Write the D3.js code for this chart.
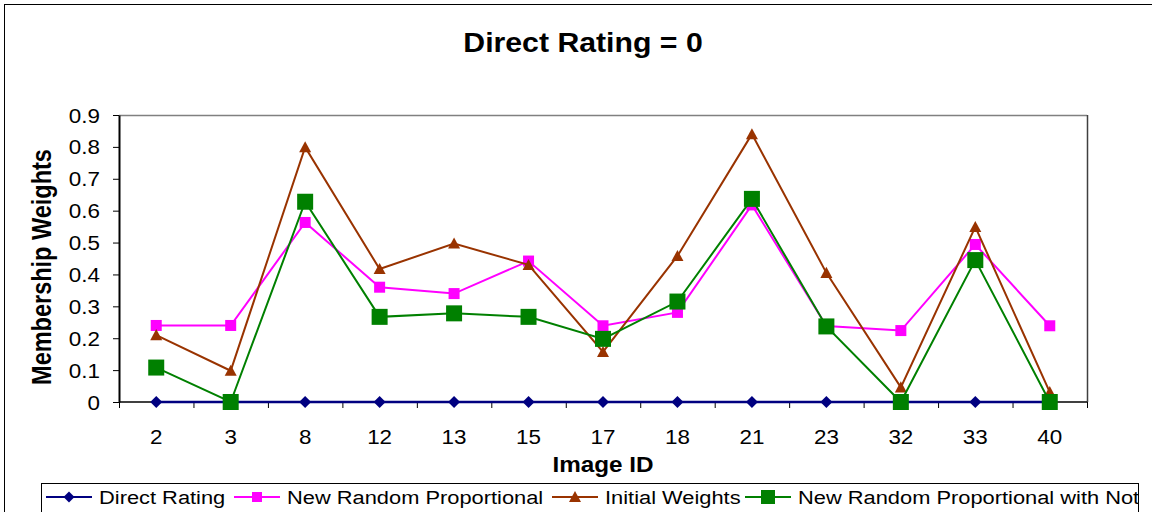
<!DOCTYPE html>
<html lang="en">
<head>
    <meta charset="UTF-8">
    <title>Direct Rating = 0</title>
    <script src="https://d3js.org/d3.v7.min.js"></script>
    <style>
        body { margin: 0; background: #fff; }
        text { font-family: "Liberation Sans", Arial, sans-serif; fill: #000; }
    </style>
</head>
<body>
    <div id="chart"></div>
    <script>
        // Data
        const imageIds = ["2", "3", "8", "12", "13", "15", "17", "18", "21", "23", "32", "33", "40"];
        const directRating = [0, 0, 0, 0, 0, 0, 0, 0, 0, 0, 0, 0, 0];
        const newRandomProportional = [0.24, 0.24, 0.563, 0.36, 0.34, 0.442, 0.239, 0.281, 0.618, 0.238, 0.224, 0.494, 0.239];
        const initialWeights = [0.21, 0.098, 0.799, 0.417, 0.497, 0.43, 0.157, 0.458, 0.84, 0.405, 0.046, 0.549, 0.031];
        const newRandomProportionalWithNot = [0.108, 0, 0.628, 0.267, 0.278, 0.267, 0.198, 0.315, 0.637, 0.237, 0, 0.445, 0];
        const yTicks = [0, 0.1, 0.2, 0.3, 0.4, 0.5, 0.6, 0.7, 0.8, 0.9];

        const series = [
            { name: "Direct Rating", values: directRating, color: "#000080", marker: "diamond", size: 12, width: 2.5 },
            { name: "New Random Proportional", values: newRandomProportional, color: "#FF00FF", marker: "square", size: 11, width: 2 },
            { name: "Initial Weights", values: initialWeights, color: "#993300", marker: "triangle", size: 12, width: 2 },
            { name: "New Random Proportional with Not", values: newRandomProportionalWithNot, color: "#008000", marker: "bigsquare", size: 16, width: 2 }
        ];

        const width = 1152, height = 512;
        const plot = { left: 119, right: 1087, top: 115, bottom: 402 };
        const sx = 1.15; // the reference text is stretched horizontally

        const svg = d3.select("#chart").append("svg")
            .attr("width", width)
            .attr("height", height);

        // Outer chart border
        svg.append("rect")
            .attr("x", 4.5).attr("y", 4.5)
            .attr("width", 1160).attr("height", 520)
            .attr("fill", "none").attr("stroke", "#000");

        const x = d3.scaleBand().domain(imageIds).range([plot.left, plot.right]);
        const y = d3.scaleLinear().domain([0, 0.9]).range([plot.bottom, plot.top]);
        const cx = d => x(d) + x.bandwidth() / 2;

        // place text with a horizontal stretch
        function stretched(g, tx, ty, str, opts) {
            return g.append("text")
                .attr("transform", `translate(${tx},${ty}) scale(${opts.sx || sx},1)`)
                .attr("text-anchor", opts.anchor || "middle")
                .attr("font-size", opts.size)
                .attr("font-weight", opts.bold ? "bold" : "normal")
                .text(str);
        }

        // Title
        stretched(svg, 583, 52, "Direct Rating = 0", { size: 27, bold: true, sx: 1.12 });

        // Plot frame: top and right
        svg.append("line")
            .attr("x1", plot.left).attr("x2", plot.right)
            .attr("y1", plot.top + 0.5).attr("y2", plot.top + 0.5)
            .attr("stroke", "#808080").attr("stroke-width", 1.5);
        svg.append("line")
            .attr("x1", plot.right + 0.5).attr("x2", plot.right + 0.5)
            .attr("y1", plot.top).attr("y2", plot.bottom)
            .attr("stroke", "#404040").attr("stroke-width", 1.5);

        // Y axis
        const yAxis = svg.append("g")
            .attr("transform", `translate(${plot.left},0)`)
            .call(d3.axisLeft(y).tickValues(yTicks).tickSize(6).tickSizeOuter(0));
        yAxis.select(".domain").attr("stroke", "#000").attr("stroke-width", 2);
        yAxis.selectAll(".tick line").attr("stroke", "#000");
        yAxis.selectAll(".tick text").remove();
        yAxis.selectAll(".tick").each(function(d) {
            stretched(d3.select(this), -19, 7, d === 0 ? "0" : d3.format(".1f")(d), { size: 19.5, anchor: "end" });
        });

        // X axis with ticks on band edges
        const xAxisG = svg.append("g");
        xAxisG.append("line")
            .attr("x1", plot.left).attr("x2", plot.right)
            .attr("y1", plot.bottom).attr("y2", plot.bottom)
            .attr("stroke", "#000").attr("stroke-width", 1.5);
        const edges = imageIds.map(d => x(d)).concat([plot.right]);
        xAxisG.selectAll("line.tick")
            .data(edges)
            .join("line")
            .attr("class", "tick")
            .attr("x1", d => d + 0.5).attr("x2", d => d + 0.5)
            .attr("y1", plot.bottom).attr("y2", plot.bottom + 6)
            .attr("stroke", "#000");
        imageIds.forEach(d => stretched(xAxisG, cx(d), 444, d, { size: 19.5 }));

        // Axis titles
        stretched(svg, 603, 472, "Image ID", { size: 21.5, bold: true, sx: 1.13 });
        svg.append("text")
            .attr("transform", `translate(51,267) rotate(-90) scale(1,${sx})`)
            .attr("text-anchor", "middle")
            .attr("font-size", 23.5)
            .attr("font-weight", "bold")
            .text("Membership Weights");

        // Marker shapes
        function marker(g, type, size, color) {
            if (type === "diamond") {
                const h = size / 2;
                g.append("path").attr("d", `M0,${-h}L${h},0L0,${h}L${-h},0Z`).attr("fill", color);
            } else if (type === "triangle") {
                const h = size / 2;
                g.append("path").attr("d", `M0,${-h}L${h},${h * 0.85}L${-h},${h * 0.85}Z`).attr("fill", color);
            } else {
                g.append("rect")
                    .attr("x", -size / 2).attr("y", -size / 2)
                    .attr("width", size).attr("height", size)
                    .attr("fill", color);
            }
        }

        const line = d3.line()
            .x((d, i) => cx(imageIds[i]))
            .y(d => y(d));

        series.forEach(s => {
            const g = svg.append("g");
            g.append("path")
                .attr("d", line(s.values))
                .attr("fill", "none")
                .attr("stroke", s.color)
                .attr("stroke-width", s.width);
            s.values.forEach((v, i) => {
                const m = g.append("g").attr("transform", `translate(${cx(imageIds[i])},${y(v)})`);
                marker(m, s.marker, s.size, s.color);
            });
        });

        // Legend
        const legend = svg.append("g");
        legend.append("rect")
            .attr("x", 41.5).attr("y", 483.5)
            .attr("width", 1097).attr("height", 40)
            .attr("fill", "#fff").attr("stroke", "#000");
        const clip = svg.append("clipPath").attr("id", "legclip");
        clip.append("rect").attr("x", 42).attr("y", 484).attr("width", 1096).attr("height", 40);
        const legendItems = legend.append("g").attr("clip-path", "url(#legclip)");
        const itemX = [46, 234, 552, 745];
        const legendMarkerSize = [11, 10, 12, 14];
        series.forEach((s, i) => {
            const g = legendItems.append("g").attr("transform", `translate(${itemX[i]},497)`);
            g.append("line")
                .attr("x1", 0).attr("x2", 46)
                .attr("stroke", s.color).attr("stroke-width", 2);
            const m = g.append("g").attr("transform", "translate(23,0)");
            marker(m, s.marker, legendMarkerSize[i], s.color);
            stretched(g, 53, 7, s.name, { size: 19, anchor: "start" });
        });
    </script>
</body>
</html>
